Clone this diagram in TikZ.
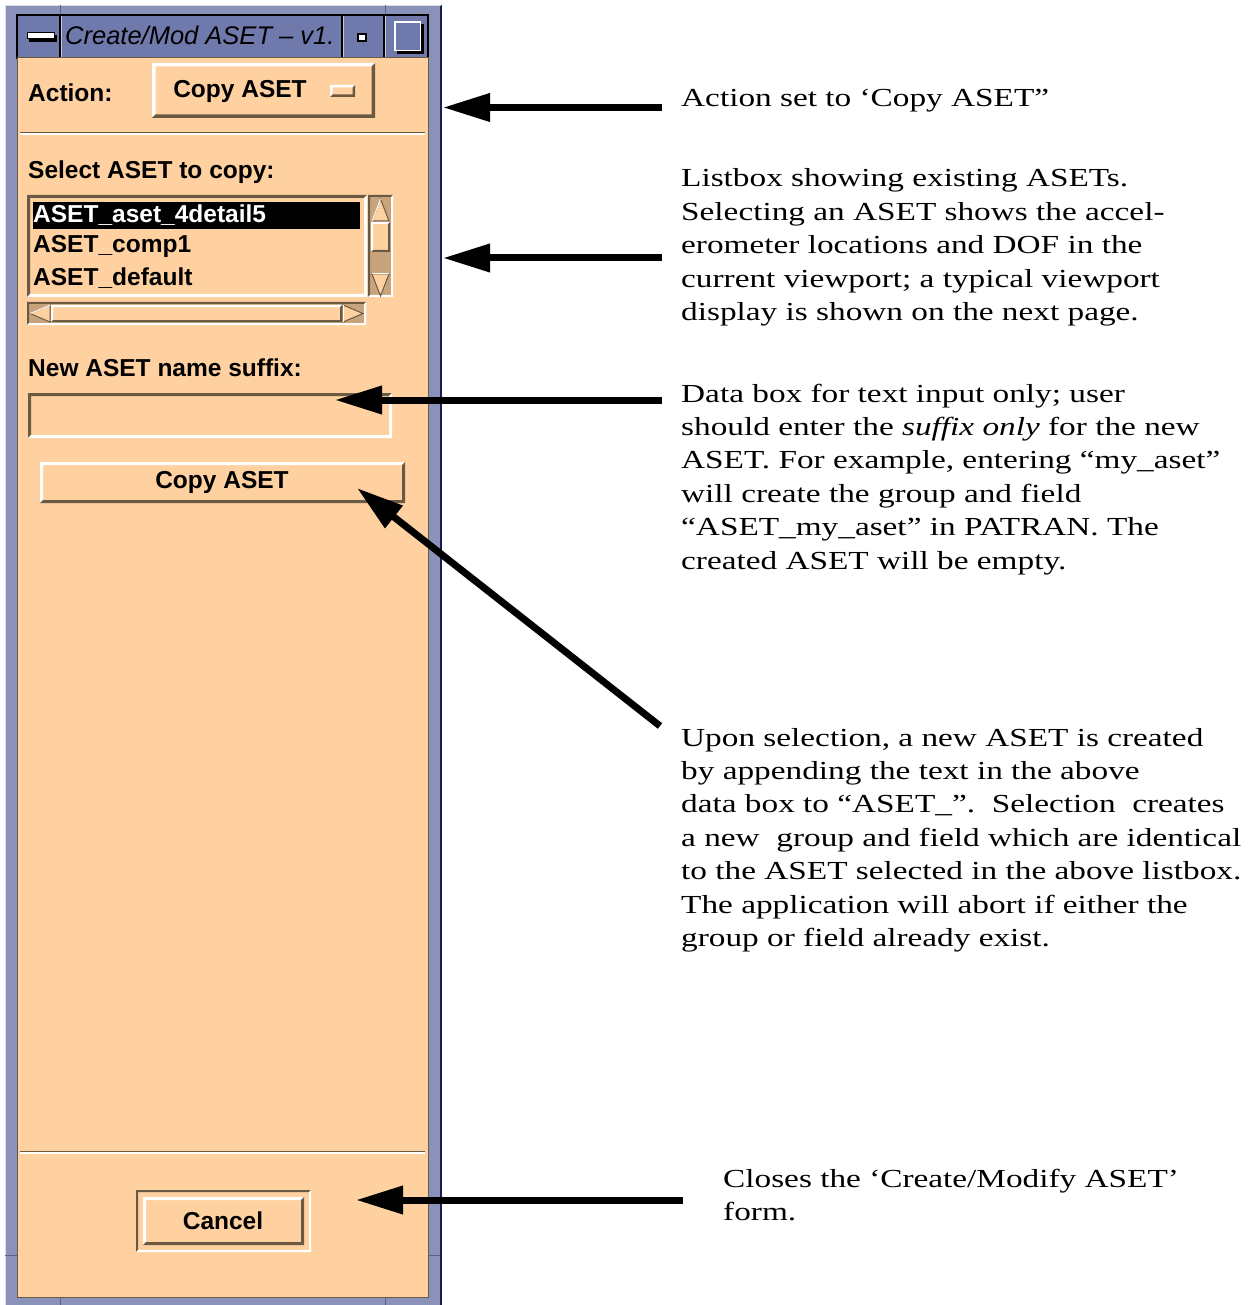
\documentclass[tikz,border=0pt]{standalone}
\usepackage{fontspec}
\setmainfont{Liberation Serif}
\newfontfamily\guifont{Liberation Sans}
\newfontfamily\notefont[FakeStretch=1.28]{Liberation Serif}
\usetikzlibrary{arrows.meta}

\definecolor{peach}{HTML}{FFD1A0}
\definecolor{shadow}{HTML}{6A5A44}
\definecolor{trough}{HTML}{C8A47C}
\definecolor{framec}{HTML}{8A92BA}
\definecolor{titlec}{HTML}{6F79AB}
\definecolor{navy}{HTML}{1C1C4C}

% bevelled rectangle: x1 y1 x2 y2 width top-left-colour bottom-right-colour
\newcommand\guibevel[7]{%
  \fill[#6] (#1,#2) -- (#3,#2) -- (#3-#5,#2+#5) -- (#1+#5,#2+#5) -- (#1+#5,#4-#5) -- (#1,#4) -- cycle;
  \fill[#7] (#3,#4) -- (#1,#4) -- (#1+#5,#4-#5) -- (#3-#5,#4-#5) -- (#3-#5,#2+#5) -- (#3,#2) -- cycle;
}

\tikzset{
  gui/.style={inner sep=0pt, font=\guifont\bfseries\fontsize{24.5}{28}\selectfont},
  guititle/.style={inner sep=0pt, font=\guifont\itshape\fontsize{25.5}{28}\selectfont},
  note/.style={anchor=base west, inner sep=0pt, font=\notefont\fontsize{26}{33.4}\selectfont},
  callout/.style={line width=7pt, -{Triangle[length=47pt,width=27pt]}},
  sepdark/.style={shadow, line width=1.5pt},
  seplight/.style={white, line width=1.5pt}
}

\newcommand\notetext[1]{\parbox[t]{580pt}{\raggedright\baselineskip=33.4pt #1}}

\begin{document}
\begin{tikzpicture}[x=1pt,y=-1pt]
\useasboundingbox (0,0) rectangle (1255,1305);
\fill[white] (0,0) rectangle (1255,1305);

% ---- window frame ----
\fill[framec] (5,5) rectangle (442,1305);
\draw[navy, line width=2pt] (441,5) -- (441,1305);
\draw[white!70!framec, line width=1pt] (5.5,5) -- (5.5,1305);
\draw[white!70!framec, line width=1pt] (5,5.5) -- (441,5.5);
\foreach \xx in {60,385}{
  \draw[navy!70, line width=1pt] (\xx,5) -- (\xx,15);
  \draw[navy!70, line width=1pt] (\xx,1297) -- (\xx,1305);
}
\draw[navy!70, line width=1pt] (5,1255) -- (17,1255);
\draw[navy!70, line width=1pt] (428,1255) -- (440,1255);

% ---- title bar ----
\fill[titlec] (17,15) rectangle (428,58);
\draw[black, line width=1.5pt] (17,15) rectangle (428,58);
\foreach \xx in {60,342,384}{
  \draw[black, line width=1.5pt] (\xx,15) -- (\xx,58);
  \draw[white!60!titlec, line width=1pt] (\xx+1.5,16) -- (\xx+1.5,57);
}
% window menu, minimise and maximise buttons
\fill[black] (29,35) rectangle (57,42);
\filldraw[fill=white, draw=black, line width=1pt] (27,33) rectangle (54,39);
\filldraw[fill=white, draw=black, line width=1.2pt] (358,34) rectangle (366,41);
\fill[black] (397,24) rectangle (424,54);
\fill[white] (394,21) rectangle (421,51);
\fill[titlec] (396,23) rectangle (420,50);
\node[guititle, anchor=west, text=black] (title) at (65,35) {Create/Mod ASET – v1.};

% ---- form body ----
\fill[peach] (17,58) rectangle (428,1297);
\draw[shadow, line width=1pt] (17,58) rectangle (428,1297);

% action option menu
\node[gui, anchor=west] (actlbl) at (28,93) {Action:};
\fill[peach] (152,63) rectangle (375,118);
\guibevel{152}{63}{375}{118}{3.5}{white}{shadow}
\node[gui] (actbtn) at (240,91) {Copy ASET};
\guibevel{330}{85}{355}{97}{2.5}{white}{shadow}

\draw[sepdark] (20,132.5) -- (425,132.5);
\draw[seplight] (20,134) -- (425,134);

% listbox of existing ASETs
\node[gui, anchor=west] (sellbl) at (28,172) {Select ASET to copy:};
\guibevel{27}{195}{367}{297}{3}{shadow}{white}
\fill[black] (33,202) rectangle (360,229);
\node[gui, anchor=west, text=white] (item1) at (33,215.5) {ASET\_aset\_4detail5};
\node[gui, anchor=west] (item2) at (33,246.5) {ASET\_comp1};
\node[gui, anchor=west] (item3) at (33,278) {ASET\_default};

% vertical scrollbar
\fill[trough] (368,195) rectangle (393,297);
\guibevel{368}{195}{393}{297}{2}{shadow}{white}
\filldraw[fill=peach, draw=shadow, line width=1pt] (380.5,199) -- (389,221) -- (372,221) -- cycle;
\draw[white, line width=1pt] (380.5,199) -- (372,221);
\fill[peach] (371,222) rectangle (390,252);
\guibevel{371}{222}{390}{252}{2}{white}{shadow}
\filldraw[fill=peach, draw=shadow, line width=1pt] (372,274) -- (389,274) -- (380.5,296) -- cycle;
\draw[white, line width=1pt] (372,274) -- (389,274);

% horizontal scrollbar
\fill[trough] (27,302) rectangle (366,325);
\guibevel{27}{302}{366}{325}{2}{shadow}{white}
\filldraw[fill=peach, draw=shadow, line width=1pt] (30,313.5) -- (50,305) -- (50,322) -- cycle;
\draw[white, line width=1pt] (30,313.5) -- (50,305);
\fill[peach] (51,305) rectangle (342,322);
\guibevel{51}{305}{342}{322}{2}{white}{shadow}
\filldraw[fill=peach, draw=shadow, line width=1pt] (343,305) -- (363,313.5) -- (343,322) -- cycle;
\draw[white, line width=1pt] (343,305) -- (343,322);

% suffix data box
\node[gui, anchor=west] (suflbl) at (28,368) {New ASET name suffix:};
\guibevel{28}{393}{392}{438}{3}{shadow}{white}

% copy button
\fill[peach] (40,462) rectangle (405,503);
\guibevel{40}{462}{405}{503}{3}{white}{shadow}
\node[gui] (copybtn) at (222,482) {Copy ASET};

\draw[sepdark] (20,1151.5) -- (425,1151.5);
\draw[seplight] (20,1153) -- (425,1153);

% cancel button
\guibevel{136}{1190}{311}{1252}{2}{shadow}{white}
\guibevel{143}{1197}{304}{1245}{3}{white}{shadow}
\node[gui] (cancel) at (223,1221) {Cancel};

% ---- notes ----
\node[note] (n1) at (681,107) {\notetext{Action set to ‘Copy ASET”}};
\node[note] (n2) at (681,187) {\notetext{Listbox showing existing ASETs.\\
Selecting an ASET shows the accel-\\
erometer locations and DOF in the\\
current viewport; a typical viewport\\
display is shown on the next page.}};
\node[note] (n3) at (681,402) {\notetext{Data box for text input only; user\\
should enter the \textit{suffix only} for the new\\
ASET. For example, entering “my\_aset”\\
will create the group and field\\
“ASET\_my\_aset” in PATRAN. The\\
created ASET will be empty.}};
\node[note] (n4) at (681,746) {\notetext{Upon selection, a new ASET is created\\
by appending the text in the above\\
data box to “ASET\_”.\ \ Selection\ \ creates\\
a new\ \ group and field which are identical\\
to the ASET selected in the above listbox.\\
The application will abort if either the\\
group or field already exist.}};
\node[note] (n5) at (723,1187) {\notetext{Closes the ‘Create/Modify ASET’\\
form.}};

% ---- callout arrows ----
\coordinate (s1) at (662,107.5);  \coordinate (e1) at (443,107.5);
\coordinate (s2) at (662,258);    \coordinate (e2) at (443,258);
\coordinate (s3) at (662,400);    \coordinate (e3) at (335,400);
\coordinate (s4) at (660,726);    \coordinate (e4) at (357,488);
\coordinate (s5) at (683,1200);   \coordinate (e5) at (356,1200);
\draw[callout] (s1) -- (e1);
\draw[callout] (s2) -- (e2);
\draw[callout] (s3) -- (e3);
\draw[callout] (s4) -- (e4);
\draw[callout] (s5) -- (e5);
\end{tikzpicture}
\end{document}
